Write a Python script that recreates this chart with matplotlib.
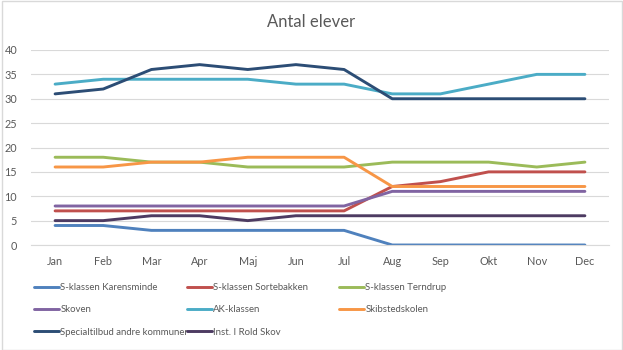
import matplotlib.pyplot as plt
from matplotlib.patches import Rectangle

plt.rcParams["font.family"] = ["Lato", "DejaVu Sans"]

months = ["Jan", "Feb", "Mar", "Apr", "Maj", "Jun", "Jul", "Aug", "Sep", "Okt", "Nov", "Dec"]
series_names = [
    "S-klassen Karensminde",
    "S-klassen Sortebakken",
    "S-klassen Terndrup",
    "Skoven",
    "AK-klassen",
    "Skibstedskolen",
    "Specialtilbud andre kommuner",
    "Inst. I Rold Skov",
]
karensminde = [4, 4, 3, 3, 3, 3, 3, 0, 0, 0, 0, 0]
sortebakken = [7, 7, 7, 7, 7, 7, 7, 12, 13, 15, 15, 15]
terndrup = [18, 18, 17, 17, 16, 16, 16, 17, 17, 17, 16, 17]
skoven = [8, 8, 8, 8, 8, 8, 8, 11, 11, 11, 11, 11]
ak_klassen = [33, 34, 34, 34, 34, 33, 33, 31, 31, 33, 35, 35]
skibsted = [16, 16, 17, 17, 18, 18, 18, 12, 12, 12, 12, 12]
specialtilbud = [31, 32, 36, 37, 36, 37, 36, 30, 30, 30, 30, 30]
rold_skov = [5, 5, 6, 6, 5, 6, 6, 6, 6, 6, 6, 6]
yticks = [0, 5, 10, 15, 20, 25, 30, 35, 40]

values = [karensminde, sortebakken, terndrup, skoven, ak_klassen, skibsted, specialtilbud, rold_skov]
colors = ["#4F81BD", "#C0504D", "#9BBB59", "#8064A2", "#4BACC6", "#F79646", "#2C4D75", "#4D3B62"]
TEXT = "#595959"
GRID = "#D9D9D9"

fig = plt.figure(figsize=(6.23, 3.5), dpi=100)
ax = fig.add_axes([31 / 623, 1 - 245 / 350, (609 - 31) / 623, 195 / 350])

x = list(range(len(months)))
handles = []
for name, ys, color in zip(series_names, values, colors):
    (line,) = ax.plot(x, ys, color=color, lw=2.1, label=name, solid_joinstyle="round", solid_capstyle="round")
    handles.append(line)

ax.set_xlim(-0.5, len(months) - 0.5)
ax.set_ylim(0, 40)
ax.set_yticks(yticks)
ax.set_xticks(x, months)
ax.tick_params(length=0, labelsize=7.8, colors=TEXT)
ax.tick_params(axis="x", pad=8)
ax.tick_params(axis="y", pad=10)
ax.grid(axis="y", color=GRID, lw=0.8)
ax.set_axisbelow(True)
for side, spine in ax.spines.items():
    spine.set_visible(side == "bottom")
ax.spines["bottom"].set_color(GRID)
ax.spines["bottom"].set_linewidth(0.8)

fig.text(0.5, 1 - 22 / 350, "Antal elever", ha="center", va="center", fontsize=12, color=TEXT)

# Excel legend: three equal-width columns, filled row by row
col_x = [34 / 623, 187 / 623, 339 / 623]
for c in range(3):
    idx = list(range(c, len(handles), 3))
    fig.legend(
        [handles[i] for i in idx],
        [series_names[i] for i in idx],
        loc="upper left",
        bbox_to_anchor=(col_x[c], 1 - 283 / 350),
        frameon=False,
        fontsize=6.9,
        labelcolor=TEXT,
        handlelength=2.6,
        handletextpad=0.15,
        labelspacing=1.4,
        borderpad=0,
        borderaxespad=0,
    )

fig.add_artist(Rectangle((2 / 623, 0.5 / 350), 620 / 623, 349 / 350, transform=fig.transFigure,
                         fill=False, edgecolor=GRID, lw=1))

fig.savefig("out.png", dpi=100, facecolor="white")
